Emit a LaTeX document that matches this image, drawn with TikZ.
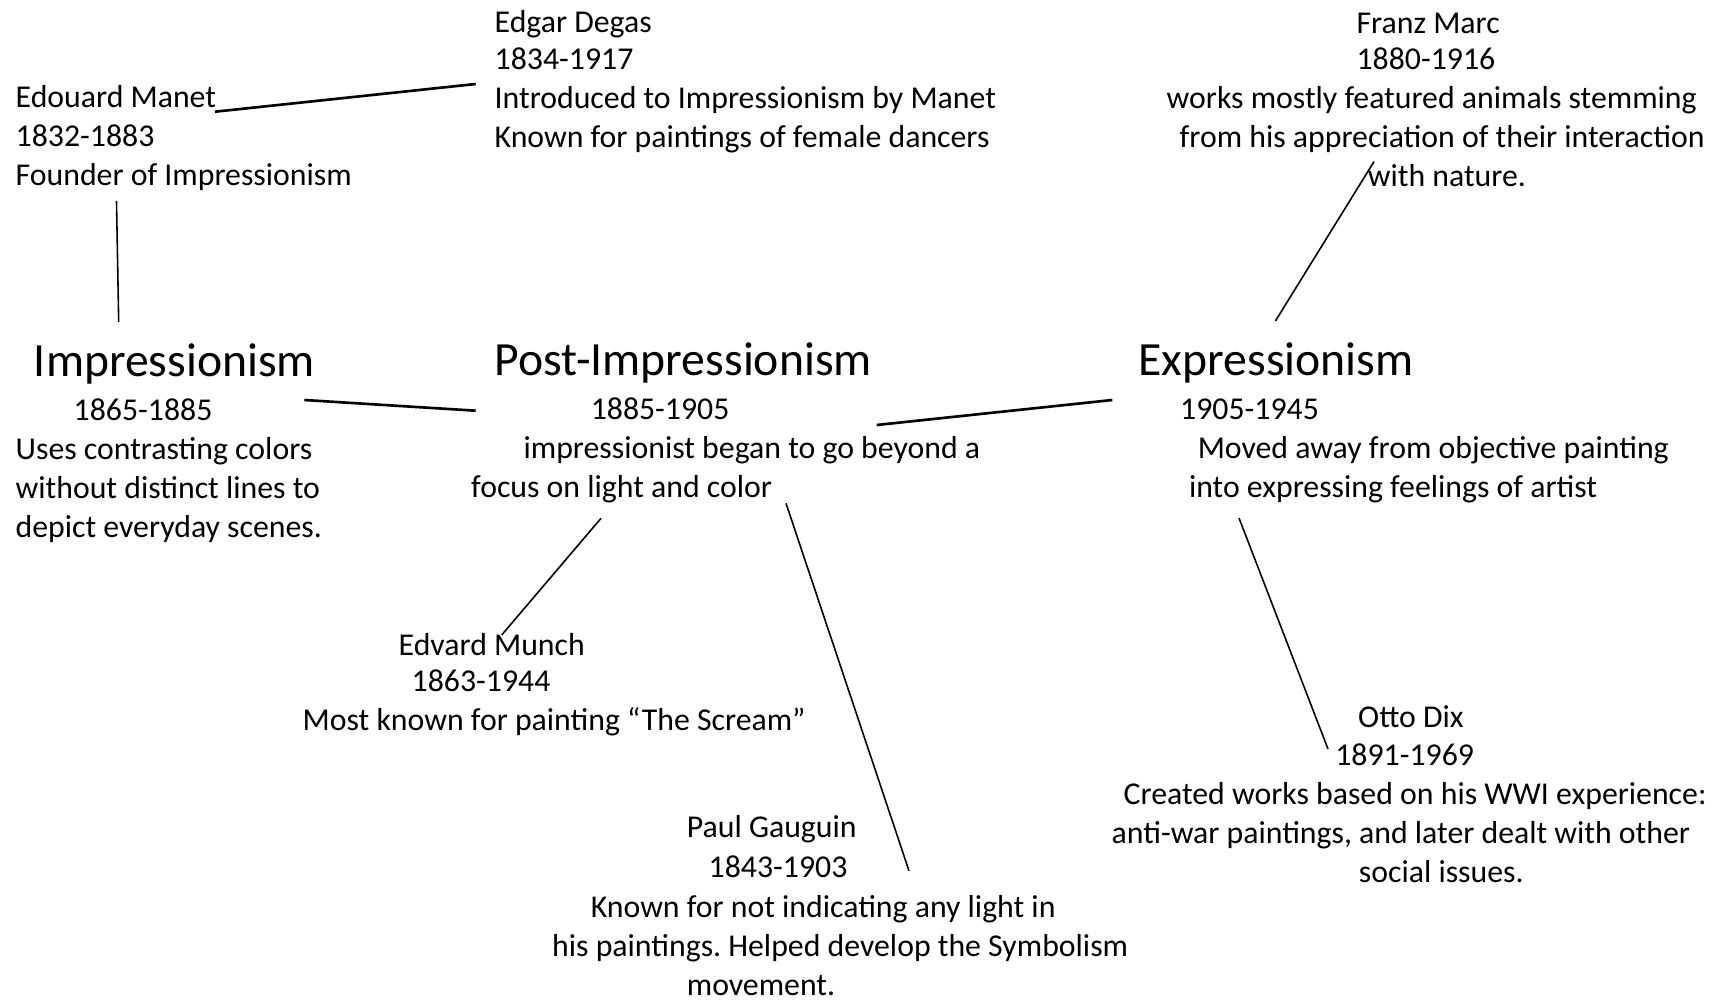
\documentclass[tikz,border=0pt]{standalone}
\usepackage{fontspec}
\setmainfont{Carlito}
\usepackage{tikz}
\usetikzlibrary{calc,positioning}
\frenchspacing

\tikzset{
  txt/.style={anchor=base west,align=left,inner sep=0pt,
    font=\fontsize{9.04}{11}\selectfont},
  link/.style={line width=0.75pt},
  thinlink/.style={line width=0.45pt}
}
\newcommand{\ttl}[1]{{\fontsize{13.56}{16}\selectfont #1}}
\newcommand{\ind}[1]{\hspace*{#1pt}}

\begin{document}
\begin{tikzpicture}[x=0.01cm,y=-0.01cm]
\useasboundingbox (0,0) rectangle (1724,1000);
%\draw[help lines,step=100] (0,0) grid (1724,1000);

% artists (nodes sit on the baseline of their last line)
\node[txt] (manet) at (15,185)
  {Edouard Manet\\ 1832-1883\\ Founder of Impressionism};
\node[txt] (degas) at (494,147)
  {Edgar Degas\\[-0.5pt] 1834-1917\\ Introduced to Impressionism by Manet\\
   Known for paintings of female dancers};
\node[txt] (marc) at (1166,186)
  {\ind{54}Franz Marc\\[-0.5pt] \ind{54}1880-1916\\
   works mostly featured animals stemming\\
   \ind{3.7}from his appreciation of their interaction\\
   \ind{57.2}with nature.};

% movements
\node[txt] (imp) at (15,537)
  {\ind{5.2}\ttl{Impressionism}\\[1.5pt] \ind{16.5}1865-1885\\
   Uses contrasting colors\\ without distinct lines to\\
   depict everyday scenes.};
\node[txt] (post) at (470.5,497)
  {\ind{6.7}\ttl{Post-Impressionism}\\[1.5pt] \ind{34}1885-1905\\
   \ind{14.9}impressionist began to go beyond a\\
   focus on light and color};
\node[txt] (expr) at (1138,497)
  {\ttl{Expressionism}\\[1.5pt] \ind{11.8}1905-1945\\
   \ind{16.8}Moved away from objective painting\\
   \ind{14.3}into expressing feelings of artist};

% later artists
\node[txt] (munch) at (302,730)
  {\ind{27.3}Edvard Munch\\[-0.7pt] \ind{31}1863-1944\\
   Most known for painting “The Scream”};
\node[txt] (gauguin) at (551.5,995)
  {\ind{38.3}Paul Gauguin\\[0.4pt] \ind{44.5}1843-1903\\[0.3pt]
   \ind{11}Known for not indicating any light in\\
   his paintings. Helped develop the Symbolism\\
   \ind{38.3}movement.};
\node[txt] (dix) at (1111,882)
  {\ind{70.1}Otto Dix\\ \ind{63.6}1891-1969\\
   \ind{3.4}Created works based on his WWI experience:\\
   anti-war paintings, and later dealt with other\\
   \ind{70.3}social issues.};

% connectors
\draw[link] ($(manet.base west)+(200,-73.3)$) -- ($(degas.base west)+(-18.3,-63)$);
\draw[thinlink] ($(manet.base west)+(101.5,16)$) -- ($(imp.base west)+(103.7,-215)$);
\draw[link] ($(imp.base west)+(289.3,-137)$) -- ($(post.base west)+(5.2,-86.3)$);
\draw[link] ($(post.base west)+(406.2,-72)$) -- ($(expr.base west)+(-25.7,-97)$);
\draw[thinlink] ($(expr.base west)+(137.4,-176)$) -- ($(marc.base west)+(208,-24.4)$);
\draw[thinlink] ($(post.base west)+(130.5,21.3)$) -- ($(munch.base west)+(199.7,-95)$);
\draw[thinlink] ($(post.base west)+(315.5,6.3)$) -- ($(gauguin.base west)+(357.5,-124.2)$);
\draw[thinlink] ($(expr.base west)+(101,21)$) -- ($(dix.base west)+(217,-133)$);
\end{tikzpicture}
\end{document}
